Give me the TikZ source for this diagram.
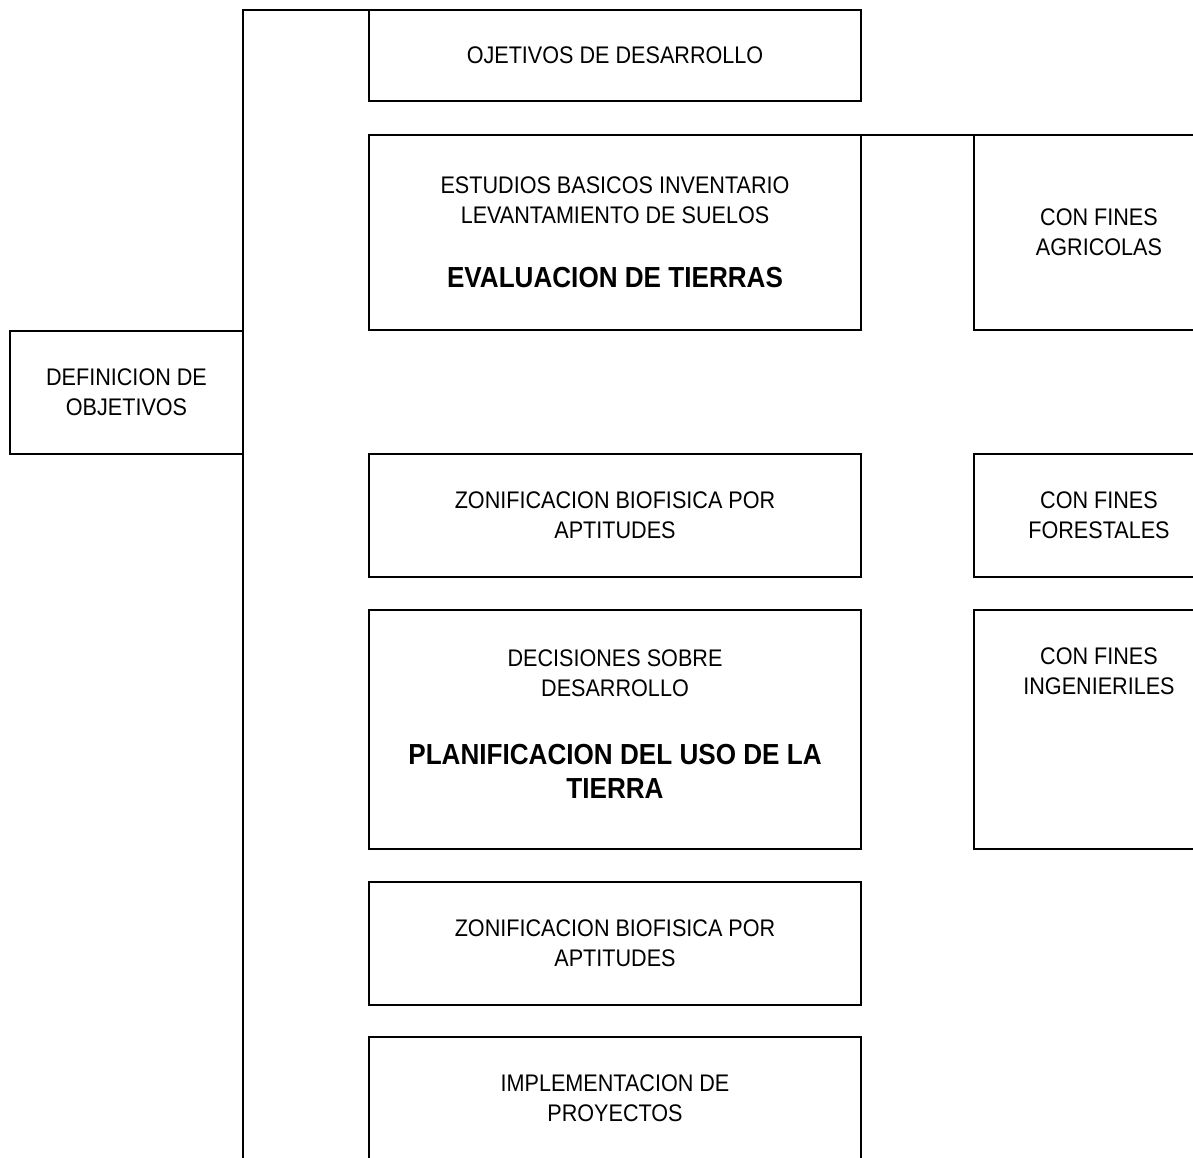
\documentclass[tikz,border=0pt]{standalone}
\usepackage{fontspec}
\setmainfont[FakeStretch=0.9]{Liberation Sans}
\usetikzlibrary{positioning}

\newcommand{\bigtxt}[1]{{\fontsize{14.5}{17}\selectfont\bfseries #1}}

\begin{document}
\begin{tikzpicture}[%
		x=0.5pt, y=-0.5pt,
		line width=1pt,
		box/.style={
			rectangle,
			minimum width=246pt,
			inner sep=0pt,
			outer sep=0pt,
			align=center,
			font=\fontsize{12}{15}\selectfont,
			black,
			draw
		},
		sidebox/.style={
			rectangle,
			minimum width=125pt,
			inner sep=0pt,
			outer sep=0pt,
			align=center,
			font=\fontsize{12}{15}\selectfont,
			black,
			draw
		},
		plain/.style={
			rectangle,
			inner sep=0pt,
			outer sep=0pt,
			align=center,
			font=\fontsize{12}{15}\selectfont
		}]

		\clip (0,0) rectangle (1193,1157);

		% CENTRAL COLUMN

		\node (obj) [box, minimum height=45.5pt, anchor=north west] at (369,10) {OJETIVOS DE DESARROLLO};
		\node (eval) [box, minimum height=97.5pt, below=17pt of obj] {ESTUDIOS BASICOS INVENTARIO\\ LEVANTAMIENTO DE SUELOS\\[17pt] \bigtxt{EVALUACION DE TIERRAS}};
		\node (zon1) [box, minimum height=61.5pt, below=62pt of eval] {ZONIFICACION BIOFISICA POR\\ APTITUDES};
		\node (dec) [box, minimum height=119.5pt, below=16.5pt of zon1] {DECISIONES SOBRE\\ DESARROLLO\\[19pt] \bigtxt{PLANIFICACION DEL USO DE LA}\\[2pt] \bigtxt{TIERRA}\\[-10pt]~};
		\node (zon2) [box, minimum height=61.5pt, below=16.5pt of dec] {ZONIFICACION BIOFISICA POR\\ APTITUDES};
		\node (impl) [box, minimum height=61.5pt, below=16pt of zon2] {IMPLEMENTACION DE\\ PROYECTOS};
		\node (impl-box) [box, minimum height=80pt, anchor=north west] at (impl.north west) {};

		% LEFT

		\node (def) [sidebox, minimum width=116.5pt, minimum height=61.5pt, anchor=east] at (243,392.5) {DEFINICION DE\\ OBJETIVOS};

		% RIGHT COLUMN

		\node (agr) [sidebox, minimum height=97.5pt, right=56.5pt of eval.north east, anchor=north west] {CON FINES\\ AGRICOLAS};
		\node (for) [sidebox, minimum height=61.5pt, right=56.5pt of zon1.north east, anchor=north west] {CON FINES\\ FORESTALES};
		\node (ing) [sidebox, minimum height=119.5pt, right=56.5pt of dec.north east, anchor=north west] {};
		\node (ing-txt) [plain, minimum height=61.5pt, below=0pt of ing.north] {CON FINES\\ INGENIERILES};

		% LINES

		\coordinate (top) at (def.east |- obj.north);
		\coordinate (bottom) at (243,1170);
		\draw (obj.north west) -- (top) -- (bottom);
		\draw (eval.north east) -- (agr.north west);
\end{tikzpicture}
\end{document}
